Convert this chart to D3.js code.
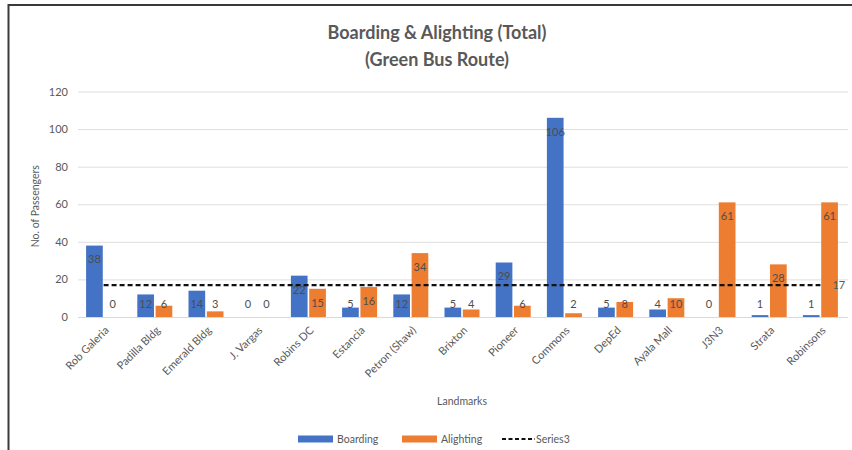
<!DOCTYPE html>
<html>
<head>
<meta charset="utf-8">
<script src="https://cdn.jsdelivr.net/npm/d3@7"></script>
<style>
  html, body { margin: 0; padding: 0; background: #fff; }
  svg { display: block; font-family: Lato, "Open Sans", sans-serif; }
</style>
</head>
<body>
<svg id="chart" width="852" height="450"></svg>
<script>
// Stops along the Green Bus Route
const landmarks = ["Rob Galeria", "Padilla Bldg", "Emerald Bldg", "J. Vargas", "Robins DC",
  "Estancia", "Petron (Shaw)", "Brixton", "Pioneer", "Commons", "DepEd", "Ayala Mall",
  "J3N3", "Strata", "Robinsons"];
const boarding  = [38, 12, 14, 0, 22, 5, 12, 5, 29, 106, 5, 4, 0, 1, 1];
const alighting = [0, 6, 3, 0, 15, 16, 34, 4, 6, 2, 8, 10, 61, 28, 61];
const series3   = [17, 17, 17, 17, 17, 17, 17, 17, 17, 17, 17, 17, 17, 17, 17];
const yTicks    = [0, 20, 40, 60, 80, 100, 120];

const svg = d3.select("#chart");
const W = 852, H = 450;
const plotL = 78, plotR = 846, plotT = 91.5, plotB = 317;
const textColor = "#595959";

// frame along top and left edges
svg.append("line").attr("x1", 8.5).attr("x2", W).attr("y1", 5).attr("y2", 5)
  .attr("stroke", "#3a3a3a").attr("stroke-width", 2);
svg.append("line").attr("x1", 8.5).attr("x2", 8.5).attr("y1", 4).attr("y2", H)
  .attr("stroke", "#3a3a3a").attr("stroke-width", 2);

const x = d3.scaleBand().domain(landmarks).range([plotL, plotR]).paddingInner(0).paddingOuter(0);
const sub = d3.scaleBand().domain(["b", "a"]).range([x.bandwidth() / 2 - 17.5, x.bandwidth() / 2 + 17.5]).paddingInner(0.09);
const y = d3.scaleLinear().domain([0, 120]).range([plotB, plotT]);

// gridlines + y labels
const yAxis = d3.axisLeft(y).tickValues(yTicks).tickSize(-(plotR - plotL + 2)).tickPadding(10);
const gy = svg.append("g").attr("transform", `translate(${plotL},0)`).call(yAxis);
gy.select(".domain").remove();
gy.selectAll(".tick line").attr("stroke", "#dedede").attr("stroke-width", 1);
gy.selectAll(".tick text").attr("fill", textColor).attr("font-size", 11).attr("font-family", "Lato, sans-serif");

// x axis with rotated labels
const xAxis = d3.axisBottom(x).tickSize(0).tickPadding(0);
const gx = svg.append("g").attr("transform", `translate(0,${plotB})`).call(xAxis);
gx.select(".domain").attr("stroke", "#d9d9d9");
gx.selectAll(".tick text")
  .attr("fill", textColor).attr("font-size", 11).attr("font-family", "Lato, sans-serif")
  .attr("text-anchor", "end").attr("dy", 0)
  .attr("transform", "translate(6,14) rotate(-45)");

// bars
const groups = svg.append("g").selectAll("g").data(landmarks).join("g")
  .attr("transform", d => `translate(${x(d)},0)`);

const barData = (i) => [
  { key: "b", v: boarding[i], color: "#4472C4" },
  { key: "a", v: alighting[i], color: "#ED7D31" }
];

groups.each(function (d, i) {
  const g = d3.select(this);
  const items = barData(i);
  g.selectAll("rect").data(items).join("rect")
    .attr("x", e => sub(e.key))
    .attr("width", sub.bandwidth())
    .attr("y", e => y(e.v))
    .attr("height", e => Math.max(0, plotB - y(e.v)))
    .attr("fill", e => e.color);
  g.selectAll("text").data(items).join("text")
    .attr("x", e => sub(e.key) + sub.bandwidth() / 2)
    .attr("y", e => Math.min(y(e.v) + 14, plotB - 13))
    .attr("dy", "0.35em")
    .attr("text-anchor", "middle")
    .attr("font-size", 11)
    .attr("fill", "#4d4d4d")
    .text(e => e.v);
});

// Series3 dashed line across category centres
const line = d3.line().x((d, i) => x(landmarks[i]) + x.bandwidth() / 2).y(d => y(d));
svg.append("path").datum(series3).attr("d", line)
  .attr("fill", "none").attr("stroke", "#111").attr("stroke-width", 2.2)
  .attr("stroke-dasharray", "5,3");
const last = series3.length - 1;
svg.append("text")
  .attr("x", x(landmarks[last]) + x.bandwidth() / 2 + 12)
  .attr("y", y(series3[last])).attr("dy", "0.35em")
  .attr("font-size", 11).attr("fill", textColor).text(series3[last]);

// titles
const title = svg.append("text").attr("x", 437).attr("text-anchor", "middle")
  .attr("fill", textColor).attr("font-size", 18).attr("font-weight", "bold");
title.append("tspan").attr("x", 437).attr("y", 39).text("Boarding & Alighting (Total)");
title.append("tspan").attr("x", 437).attr("y", 66).text("(Green Bus Route)");

svg.append("text").attr("transform", `translate(39,${(plotT + plotB) / 2 + 2}) rotate(-90)`)
  .attr("text-anchor", "middle").attr("font-size", 10.5).attr("fill", textColor)
  .text("No. of Passengers");

svg.append("text").attr("x", 462).attr("y", 405).attr("text-anchor", "middle")
  .attr("font-size", 10.5).attr("fill", textColor).text("Landmarks");

// legend
const lg = svg.append("g").attr("transform", "translate(0,439)");
const legendItems = [
  { label: "Boarding", color: "#4472C4", type: "rect", x: 298 },
  { label: "Alighting", color: "#ED7D31", type: "rect", x: 402 },
  { label: "Series3", color: "#111", type: "dash", x: 502 }
];
legendItems.forEach(it => {
  if (it.type === "rect") {
    lg.append("rect").attr("x", it.x).attr("y", -3.5).attr("width", 35).attr("height", 7).attr("fill", it.color);
  } else {
    lg.append("line").attr("x1", it.x).attr("x2", it.x + 33).attr("y1", 0).attr("y2", 0)
      .attr("stroke", it.color).attr("stroke-width", 2).attr("stroke-dasharray", "4,2.5");
  }
  lg.append("text").attr("x", it.x + (it.type === "rect" ? 39 : 34)).attr("y", 0).attr("dy", "0.35em")
    .attr("font-size", 10.5).attr("fill", textColor).text(it.label);
});
</script>
</body>
</html>
